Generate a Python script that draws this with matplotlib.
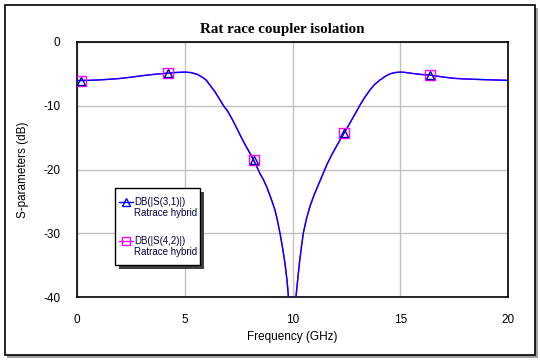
import matplotlib
matplotlib.use("Agg")
import matplotlib.pyplot as plt
from matplotlib.patches import Rectangle
from matplotlib.lines import Line2D

plt.rcParams["axes.unicode_minus"] = False

freq = [0.0, 0.5, 1.0, 1.5, 2.0, 2.5, 3.0, 3.5, 4.0, 4.5, 5.0, 5.3, 5.6, 5.85, 6.0, 6.2,
        6.4, 6.64, 6.8, 7.0, 7.2, 7.41, 7.6, 7.8, 8.0, 8.18, 8.35, 8.5, 8.65, 8.8, 9.0,
        9.19, 9.3, 9.42, 9.55, 9.65, 9.75, 9.81, 9.9, 10.0, 10.1, 10.16, 10.25, 10.32,
        10.42, 10.5, 10.65, 10.81, 11.0, 11.3, 11.6, 11.82, 12.0, 12.2, 12.39, 12.6,
        12.8, 13.0, 13.13, 13.35, 13.6, 13.8, 14.06, 14.3, 14.52, 14.75, 15.0, 15.25,
        15.5, 15.9, 16.4, 17.0, 17.5, 18.0, 18.5, 19.3, 20.0]
s31_db = [-6.05, -6.02, -5.95, -5.85, -5.72, -5.52, -5.3, -5.1, -4.95, -4.8, -4.72, -4.8,
          -5.1, -5.6, -6.0, -6.9, -7.8, -9.1, -10.0, -10.9, -12.1, -13.5, -14.8, -16.1,
          -17.3, -18.4, -19.6, -20.7, -21.6, -22.7, -24.5, -26.4, -28.0, -30.0, -32.5,
          -34.7, -37.5, -40.0, -46.0, -60.0, -46.0, -40.0, -37.0, -34.7, -32.0, -30.0,
          -27.7, -25.8, -24.0, -21.6, -19.2, -17.7, -16.6, -15.4, -14.3, -13.1, -11.9,
          -10.7, -9.9, -8.7, -7.5, -6.7, -5.96, -5.4, -5.0, -4.8, -4.72, -4.78, -4.9,
          -5.07, -5.2, -5.5, -5.7, -5.8, -5.86, -5.95, -6.02]
s42_db = list(s31_db)

marker_freq = [0.2, 4.2, 8.2, 12.4, 16.4]
marker_db = [-6.05, -4.9, -18.5, -14.3, -5.2]

xticks = [0, 5, 10, 15, 20]
yticks = [0, -10, -20, -30, -40]

W, H = 540, 362
fig = plt.figure(figsize=(W / 100, H / 100), dpi=100)
fig.patch.set_facecolor("white")

# frame with shadow
fig.patches.append(Rectangle((7 / W, 1 - 358 / H), 531 / W, 350 / H, transform=fig.transFigure,
                             facecolor="#a0a0a0", edgecolor="none", zorder=0))
fig.patches.append(Rectangle((4.5 / W, 1 - 355 / H), 530 / W, 350 / H, transform=fig.transFigure,
                             facecolor="white", edgecolor="black", linewidth=1.2, zorder=1))

ax = fig.add_axes([77 / W, 1 - 297 / H, 431 / W, 255 / H])
ax.set_zorder(2)
ax.set_facecolor("white")

ax.plot(freq, s42_db, color="#ff00ff", lw=1.0, zorder=3)
ax.plot(freq, s31_db, color="#0000ff", lw=1.0, zorder=4)
ax.plot(marker_freq, marker_db, linestyle="none", marker="s", markersize=7,
        markerfacecolor="none", markeredgecolor="#ff00ff", markeredgewidth=1.0, zorder=5)
ax.plot(marker_freq, marker_db, linestyle="none", marker="^", markersize=6,
        markerfacecolor="none", markeredgecolor="#0000aa", markeredgewidth=1.0, zorder=6)

ax.set_xlim(0, 20)
ax.set_ylim(-40, 0)
ax.set_xticks(xticks)
ax.set_yticks(yticks)
ax.grid(True, color="#c0c0c0", lw=1.0)
ax.set_axisbelow(True)
ax.tick_params(length=0, labelsize=8.5, pad=12)
for lab in ax.get_xticklabels() + ax.get_yticklabels():
    lab.set_family("Liberation Sans")
for sp in ax.spines.values():
    sp.set_color("black")
    sp.set_linewidth(1.2)

ax.set_xlabel("Frequency (GHz)", family="Liberation Sans", fontsize=8.5, labelpad=4)
ax.set_ylabel("S-parameters (dB)", family="Liberation Sans", fontsize=8.5, labelpad=10)
fig.text(282 / W, 1 - 29 / H, "Rat race coupler isolation", ha="center", va="center",
         family="Liberation Serif", fontweight="bold", fontsize=10.8)

# legend box
lx0, ly0, lx1, ly1 = 115, 188, 200, 265
fig.patches.append(Rectangle(((lx0 + 4) / W, 1 - (ly1 + 4) / H), (lx1 - lx0) / W, (ly1 - ly0) / H,
                             transform=fig.transFigure, facecolor="#404040", edgecolor="none", zorder=7))
fig.patches.append(Rectangle((lx0 / W, 1 - ly1 / H), (lx1 - lx0) / W, (ly1 - ly0) / H,
                             transform=fig.transFigure, facecolor="white", edgecolor="black",
                             linewidth=1.0, zorder=8))
entries = [("DB(|S(3,1)|)", "#0000ff", "^", 202),
           ("DB(|S(4,2)|)", "#ff00ff", "s", 241)]
for label, col, mk, yy in entries:
    ln = Line2D([119 / W, 126 / W, 133 / W], [1 - yy / H] * 3, transform=fig.transFigure,
                color=col, lw=1.0, marker=mk, markevery=[1], markersize=6,
                markerfacecolor="none", markeredgecolor=col, zorder=9)
    fig.lines.append(ln)
    fig.text(134 / W, 1 - yy / H, label, ha="left", va="center", family="Liberation Sans",
             fontsize=7, color="#000040", zorder=10)
    fig.text(134 / W, 1 - (yy + 11) / H, "Ratrace hybrid", ha="left", va="center",
             family="Liberation Sans", fontsize=7, color="#000040", zorder=10)

fig.savefig("out.png", dpi=100)
